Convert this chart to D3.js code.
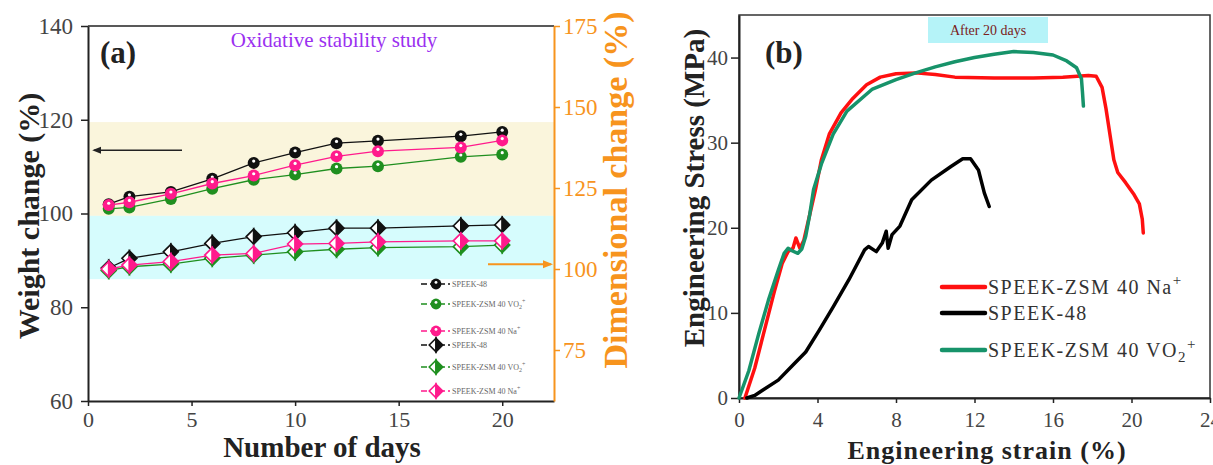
<!DOCTYPE html>
<html>
<head>
<meta charset="utf-8">
<script src="https://cdn.jsdelivr.net/npm/d3@7/dist/d3.min.js"></script>
<style>
  body { margin: 0; background: #fff; }
  svg text { font-family: "Liberation Serif", "Times New Roman", serif; }
</style>
</head>
<body>
<svg id="chart" width="1213" height="465"></svg>
<script>
// ---- panel (a): oxidative stability ----
const days = [1, 2, 4, 6, 8, 10, 12, 14, 18, 20];
const weightSpeek48 = [102.0, 103.6, 104.6, 107.4, 110.8, 113.0, 115.0, 115.5, 116.5, 117.4];
const weightVO2 = [101.0, 101.3, 103.1, 105.3, 107.2, 108.3, 109.6, 110.1, 112.1, 112.6];
const weightNa = [101.8, 102.4, 104.2, 106.4, 108.1, 110.3, 112.2, 113.3, 114.1, 115.6];
const dimSpeek48 = [100.3, 103.3, 105.3, 107.9, 110.0, 111.2, 112.6, 112.6, 113.3, 113.6];
const dimVO2 = [99.5, 100.7, 101.5, 103.3, 104.3, 105.3, 106.1, 106.6, 106.9, 107.4];
const dimNa = [100.0, 101.2, 102.3, 104.3, 104.8, 107.7, 107.9, 108.4, 108.7, 108.7];
const weightTicks = [60, 80, 100, 120, 140];
const dimTicks = [75, 100, 125, 150, 175];
const dayTicks = [0, 5, 10, 15, 20];
const legendA = ["SPEEK-48", "SPEEK-ZSM 40 VO2+", "SPEEK-ZSM 40 Na+", "SPEEK-48", "SPEEK-ZSM 40 VO2+", "SPEEK-ZSM 40 Na+"];

// ---- panel (b): tensile curves after 20 days ----
const naStrain = [0.3, 0.8, 1.3, 1.8, 2.2, 2.5, 2.75, 2.9, 3.0, 3.1, 3.3, 3.6, 3.9, 4.2, 4.6, 5.2, 5.8, 6.5, 7.2, 8.0, 9.0, 10.0, 11.0, 13.0, 15.0, 16.5, 17.8, 18.2, 18.5, 18.7, 18.9, 19.1, 19.3, 19.7, 20.1, 20.4, 20.55, 20.6];
const naStress = [0, 3.5, 8.0, 12.5, 15.8, 17.2, 17.6, 18.8, 18.2, 17.6, 18.5, 21.5, 24.5, 28.0, 31.0, 33.5, 35.2, 36.8, 37.7, 38.1, 38.2, 38.0, 37.7, 37.6, 37.6, 37.7, 37.9, 37.8, 36.5, 34.0, 31.0, 28.0, 26.5, 25.3, 24.0, 22.8, 21.0, 19.4];
const speekStrain = [0.4, 0.8, 1.2, 2.0, 2.8, 3.4, 4.1, 4.8, 5.6, 6.4, 6.6, 7.0, 7.3, 7.5, 7.6, 7.8, 8.2, 8.8, 9.8, 10.8, 11.4, 11.8, 12.2, 12.5, 12.75];
const speekStress = [0, 0.3, 0.9, 2.1, 4.0, 5.4, 8.0, 10.7, 13.9, 17.4, 17.8, 17.2, 18.2, 19.6, 17.6, 19.2, 20.2, 23.3, 25.6, 27.2, 28.1, 28.1, 26.8, 24.1, 22.5];
const vo2Strain = [0.0, 0.5, 1.0, 1.5, 2.0, 2.3, 2.5, 2.7, 3.0, 3.2, 3.4, 3.6, 3.8, 4.2, 4.8, 5.5, 6.8, 8.0, 9.0, 10.0, 11.0, 12.0, 13.0, 14.0, 15.0, 16.0, 16.7, 17.2, 17.45, 17.5, 17.55];
const vo2Stress = [0, 3.2, 7.5, 11.5, 15.0, 17.0, 17.6, 17.3, 17.0, 17.5, 19.0, 21.5, 24.5, 27.5, 31.0, 33.7, 36.3, 37.4, 38.2, 38.9, 39.5, 40.0, 40.4, 40.7, 40.6, 40.3, 39.6, 38.8, 37.5, 36.0, 34.3];
const strainTicks = [0, 4, 8, 12, 16, 20, 24];
const stressTicks = [0, 10, 20, 30, 40];
const legendB = ["SPEEK-ZSM 40 Na", "SPEEK-48", "SPEEK-ZSM 40 VO"];

const svg = d3.select("#chart");
const colBlack = "#111", colGreen = "#1f8f1f", colPink = "#ff1a8c", colOrange = "#f7941d";

// scales (a)
const xA = d3.scaleLinear().domain([0, 22.5]).range([88, 554]);
const yA = d3.scaleLinear().domain([60, 140]).range([401, 26]);
const yA2 = d3.scaleLinear().domain([59.26, 175]).range([401, 26]);

// background bands
svg.append("rect").attr("x", xA(0)).attr("width", xA(22.5) - xA(0))
  .attr("y", yA(119.5)).attr("height", yA(99.5) - yA(119.5)).attr("fill", "#faf5dc");
svg.append("rect").attr("x", xA(0)).attr("width", xA(22.5) - xA(0))
  .attr("y", yA(99.5)).attr("height", yA(86) - yA(99.5)).attr("fill", "#d6fcfd");

// top frame line
svg.append("line").attr("x1", xA(0)).attr("x2", xA(22.5)).attr("y1", yA(140)).attr("y2", yA(140))
  .attr("stroke", "#222").attr("stroke-width", 1.5);

function styleAxis(g, color, size) {
  g.select(".domain").attr("stroke", color).attr("stroke-width", 2);
  g.selectAll(".tick line").attr("stroke", color).attr("stroke-width", 1.5);
  g.selectAll(".tick text").attr("fill", color === "#222" ? "#444" : color)
    .style("font-size", size + "px").style("font-family", "Liberation Serif");
}

const axLeft = svg.append("g").attr("transform", `translate(${xA(0)},0)`)
  .call(d3.axisLeft(yA).tickValues(weightTicks).tickSize(7).tickPadding(8).tickSizeOuter(0));
styleAxis(axLeft, "#222", 23);

const axBottomA = svg.append("g").attr("transform", `translate(0,${yA(60)})`)
  .call(d3.axisBottom(xA).tickValues(dayTicks).tickSize(5).tickPadding(5).tickSizeOuter(0));
styleAxis(axBottomA, "#222", 22);

const axRight = svg.append("g").attr("transform", `translate(${xA(22.5)},0)`)
  .call(d3.axisRight(yA2).tickValues(dimTicks).tickSize(6).tickPadding(3).tickSizeOuter(0));
styleAxis(axRight, colOrange, 23);

// series lines + markers
const gA = svg.append("g");
function drawSeries(vals, scale, color, shape) {
  const line = d3.line().x((d, i) => xA(days[i])).y(d => scale(d));
  gA.append("path").datum(vals).attr("d", line).attr("fill", "none")
    .attr("stroke", color).attr("stroke-width", 1.3);
  vals.forEach((v, i) => drawMarker(gA, xA(days[i]), scale(v), color, shape, 1));
}
function drawMarker(g, cx, cy, color, shape, k) {
  if (shape === "circle") {
    g.append("circle").attr("cx", cx).attr("cy", cy).attr("r", 6 * k).attr("fill", color);
    g.append("circle").attr("cx", cx).attr("cy", cy - 1.8 * k).attr("r", 1.6 * k).attr("fill", "#fff");
  } else {
    const h = 7.5 * k;
    g.append("path").attr("d", `M${cx},${cy - h}L${cx - h},${cy}L${cx},${cy + h}Z`)
      .attr("fill", "#fff").attr("stroke", color).attr("stroke-width", 1.6);
    g.append("path").attr("d", `M${cx},${cy - h}L${cx + h},${cy}L${cx},${cy + h}Z`)
      .attr("fill", color).attr("stroke", color).attr("stroke-width", 1.6);
  }
}
drawSeries(weightSpeek48, yA, colBlack, "circle");
drawSeries(weightVO2, yA, colGreen, "circle");
drawSeries(weightNa, yA, colPink, "circle");
drawSeries(dimSpeek48, yA2, colBlack, "diamond");
drawSeries(dimVO2, yA2, colGreen, "diamond");
drawSeries(dimNa, yA2, colPink, "diamond");

// arrows
const defs = svg.append("defs");
defs.append("marker").attr("id", "headBlack").attr("viewBox", "0 0 10 10").attr("refX", 8).attr("refY", 5)
  .attr("markerWidth", 6).attr("markerHeight", 6).attr("orient", "auto-start-reverse")
  .append("path").attr("d", "M0,1L10,5L0,9Z").attr("fill", "#222");
defs.append("marker").attr("id", "headOrange").attr("viewBox", "0 0 10 10").attr("refX", 8).attr("refY", 5)
  .attr("markerWidth", 5).attr("markerHeight", 5).attr("orient", "auto")
  .append("path").attr("d", "M0,1L10,5L0,9Z").attr("fill", colOrange);
svg.append("line").attr("x1", 182).attr("x2", 94).attr("y1", yA(113.5)).attr("y2", yA(113.5))
  .attr("stroke", "#222").attr("stroke-width", 1.5).attr("marker-end", "url(#headBlack)");
svg.append("line").attr("x1", 488).attr("x2", 551).attr("y1", yA2(101.5)).attr("y2", yA2(101.5))
  .attr("stroke", colOrange).attr("stroke-width", 2).attr("marker-end", "url(#headOrange)");

// legend (a)
const legRowsA = [284, 304, 331, 345, 367, 391];
const legColA = [colBlack, colGreen, colPink, colBlack, colGreen, colPink];
legendA.forEach((name, i) => {
  const y = legRowsA[i];
  gA.append("line").attr("x1", 421).attr("x2", 450).attr("y1", y).attr("y2", y)
    .attr("stroke", legColA[i]).attr("stroke-width", 1.5).attr("stroke-dasharray", "6,3");
  drawMarker(gA, 436, y, legColA[i], i < 3 ? "circle" : "diamond", 0.9);
  const t = gA.append("text").attr("x", 452).attr("y", y + 3).attr("fill", "#666")
    .style("font-size", "8px");
  if (name.endsWith("VO2+")) {
    t.append("tspan").text(name.slice(0, -2));
    t.append("tspan").attr("dy", 2).style("font-size", "6px").text("2");
    t.append("tspan").attr("dy", -6).style("font-size", "6px").text("+");
  } else if (name.endsWith("+")) {
    t.append("tspan").text(name.slice(0, -1));
    t.append("tspan").attr("dy", -4).style("font-size", "6px").text("+");
  } else {
    t.text(name);
  }
});

// texts (a)
svg.append("text").attr("x", 100).attr("y", 63).style("font-size", "31px").style("font-weight", "bold")
  .attr("fill", "#222").text("(a)");
svg.append("text").attr("x", 334).attr("y", 47).attr("text-anchor", "middle").style("font-size", "21px")
  .attr("fill", "#9b30f0").text("Oxidative stability study");
svg.append("text").attr("transform", "translate(39,216) rotate(-90)").attr("text-anchor", "middle")
  .style("font-size", "30px").style("font-weight", "bold").attr("fill", "#222").text("Weight change (%)");
svg.append("text").attr("transform", "translate(627,190) rotate(-90)").attr("text-anchor", "middle")
  .style("font-size", "34px").style("font-weight", "bold").attr("fill", colOrange).text("Dimensional change (%)");
svg.append("text").attr("x", 322).attr("y", 457).attr("text-anchor", "middle")
  .style("font-size", "29px").style("font-weight", "bold").attr("fill", "#222").text("Number of days");

// ---- panel (b) ----
const xB = d3.scaleLinear().domain([0, 24]).range([739, 1210]);
const yB = d3.scaleLinear().domain([0, 45]).range([398, 15]);

svg.append("rect").attr("x", 928).attr("y", 17).attr("width", 120).attr("height", 26).attr("fill", "#b5f3f8");
svg.append("text").attr("x", 988).attr("y", 35).attr("text-anchor", "middle").style("font-size", "14px")
  .attr("fill", "#7a2020").text("After 20 days");

svg.append("rect").attr("x", xB(0)).attr("y", yB(45)).attr("width", xB(24) - xB(0)).attr("height", yB(0) - yB(45))
  .attr("fill", "none").attr("stroke", "#333").attr("stroke-width", 1.5);

const axLeftB = svg.append("g").attr("transform", `translate(${xB(0)},0)`)
  .call(d3.axisLeft(yB).tickValues(stressTicks).tickSize(8).tickPadding(3).tickSizeOuter(0));
styleAxis(axLeftB, "#222", 21);
const axBottomB = svg.append("g").attr("transform", `translate(0,${yB(0)})`)
  .call(d3.axisBottom(xB).tickValues(strainTicks).tickSize(5).tickPadding(9).tickSizeOuter(0));
styleAxis(axBottomB, "#222", 21);

const colRed = "#ff1010", colTeal = "#17936a";
const lineB = d3.line().x(d => xB(d[0])).y(d => yB(d[1]));
const curves = [
  { xs: naStrain, ys: naStress, color: colRed },
  { xs: speekStrain, ys: speekStress, color: "#000" },
  { xs: vo2Strain, ys: vo2Stress, color: colTeal }
];
curves.forEach(c => {
  svg.append("path").datum(c.xs.map((x, i) => [x, c.ys[i]])).attr("d", lineB)
    .attr("fill", "none").attr("stroke", c.color).attr("stroke-width", 3.5)
    .attr("stroke-linejoin", "round").attr("stroke-linecap", "round");
});

// legend (b)
const legRowsB = [287, 313, 350];
legendB.forEach((name, i) => {
  const y = legRowsB[i];
  svg.append("line").attr("x1", 942).attr("x2", 985).attr("y1", y).attr("y2", y)
    .attr("stroke", curves[i].color).attr("stroke-width", 4.5).attr("stroke-linecap", "round");
  const t = svg.append("text").attr("x", 988).attr("y", y + 7).attr("fill", "#333")
    .style("font-size", "20px").style("letter-spacing", "1.5px");
  t.append("tspan").text(name);
  if (i === 0) {
    t.append("tspan").attr("dy", -9).style("font-size", "15px").text("+");
  } else if (i === 2) {
    t.append("tspan").attr("dy", 5).style("font-size", "15px").text("2");
    t.append("tspan").attr("dy", -13).style("font-size", "15px").text("+");
  }
});

svg.append("text").attr("transform", "translate(704,188) rotate(-90)").attr("text-anchor", "middle")
  .style("font-size", "29px").style("font-weight", "bold").attr("fill", "#222").text("Engineering Stress (MPa)");
svg.append("text").attr("x", 987).attr("y", 459).attr("text-anchor", "middle")
  .style("font-size", "26px").style("font-weight", "bold").style("letter-spacing", "1px")
  .attr("fill", "#222").text("Engineering strain (%)");
svg.append("text").attr("x", 765).attr("y", 63).style("font-size", "31px").style("font-weight", "bold")
  .attr("fill", "#222").text("(b)");
</script>
</body>
</html>
